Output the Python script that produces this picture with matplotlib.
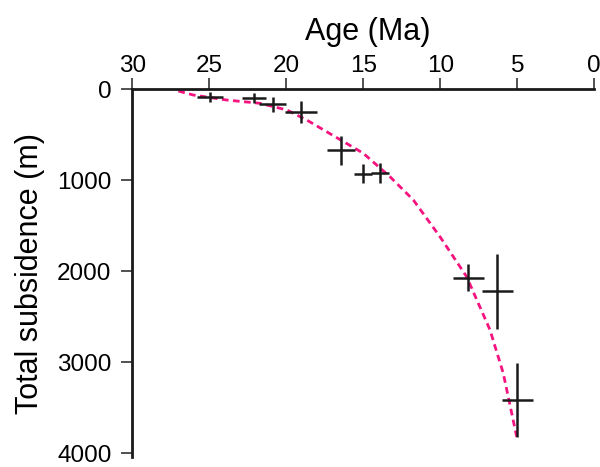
import matplotlib
matplotlib.use('Agg')
import matplotlib.pyplot as plt

plt.rcParams['font.family'] = ['Liberation Sans', 'DejaVu Sans']

# subsidence data points (age in Ma, depth in m) with error ranges
age = [24.95, 22.10, 20.88, 19.05, 16.45, 15.0, 13.92, 8.18, 6.30, 5.0]
depth = [85, 95, 165, 250, 670, 930, 920, 2069, 2220, 3418]
age_err = [0.85, 0.8, 0.87, 1.03, 0.9, 0.58, 0.58, 1.0, 1.02, 1.01]
depth_err = [55, 55, 80, 120, 160, 105, 105, 148, 415, 407]

# fitted subsidence curve
curve_age = [27.01, 26.04, 23.87, 21.71, 19.97, 18.68, 17.38, 15.0, 13.27,
             11.75, 10.02, 8.29, 6.77, 5.91, 5.04]
curve_depth = [19, 63, 118, 154, 227, 337, 466, 703, 960,
               1216, 1620, 2059, 2645, 3121, 3818]

fig = plt.figure(figsize=(6, 4.67), dpi=100)
ax = fig.add_axes([0.2205, 0.0214, 0.77, 0.7874])

ax.plot(curve_age, curve_depth, color='#f5137f', lw=2, ls=(0, (2.4, 1.6)))
ax.errorbar(age, depth, xerr=age_err, yerr=depth_err, fmt='none',
            ecolor='#1a1a1a', elinewidth=1.8, capsize=0)

ax.set_xlim(30, 0)
ax.set_ylim(4040, 0)
ax.set_xticks([30, 25, 20, 15, 10, 5, 0])
ax.set_yticks([0, 1000, 2000, 3000, 4000])

ax.xaxis.tick_top()
ax.xaxis.set_label_position('top')
ax.spines['right'].set_visible(False)
ax.spines['bottom'].set_visible(False)
for s in ['top', 'left']:
    ax.spines[s].set_linewidth(2)
    ax.spines[s].set_color('#1a1a1a')
ax.tick_params(axis='both', direction='out', length=8, width=1.2,
               labelsize=17.5, color='#333333')
ax.tick_params(axis='x', pad=0.5)
ax.tick_params(axis='y', pad=7)

ax.set_xlabel('Age (Ma)', fontsize=22)
ax.xaxis.set_label_coords(0.51, 1.135)
ax.set_ylabel('Total subsidence (m)', fontsize=22)
ax.yaxis.set_label_coords(-0.19, 0.5)

fig.savefig('out.png', dpi=100)
